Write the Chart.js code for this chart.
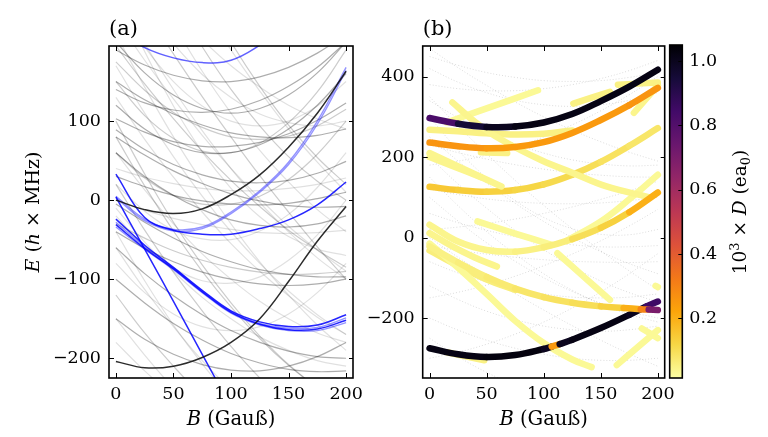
<!DOCTYPE html>
<html>
<head>
<meta charset="utf-8">
<script src="https://cdn.jsdelivr.net/npm/chart.js@4.4.0/dist/chart.umd.min.js"></script>
<style>
  html, body { margin: 0; padding: 0; background: #fff; }
  #wrap { position: relative; width: 768px; height: 437px; }
  #wrap canvas { position: absolute; left: 0; top: 0; }
</style>
</head>
<body>
<div id="wrap">
  <canvas id="chart-a" width="768" height="437"></canvas>
  <canvas id="chart-b" width="768" height="437"></canvas>
  <canvas id="chart-c" width="768" height="437"></canvas>
</div>
<script>
// ---- data ----
const bGrid = [0, 25, 50, 75, 100, 125, 150, 175, 200];
const xTicks = [0, 50, 100, 150, 200];
const yTicksA = [-200, -100, 0, 100];
const yTicksB = [-200, 0, 200, 400];
const cbTicks = [0.2, 0.4, 0.6, 0.8, 1.0];

// panel (a): energies on bGrid
const grayDarkA = [
  [140, 123, 114, 111, 115, 126, 144, 168, 200],
  [103, 86, 74, 68, 68, 73, 84, 101, 123],
  [89, 64, 45, 32, 24, 22, 25, 34, 49],
  [190, 171, 158, 151, 150, 156, 168, 186, 210],
  [60, 30, 6, -12, -25, -32, -34, -30, -20],
  [-40, -61, -78, -91, -100, -106, -108, -106, -100],
  [30, 17, 6, -1, -5, -6, -4, 2, 10],
  [80, 57, 37, 21, 8, -1, -7, -9, -8],
  [120, 90, 70, 60, 60, 70, 90, 120, 160],
  [-100, -130, -156, -177, -194, -206, -214, -217, -216],
  [-60, -93, -121, -145, -165, -180, -191, -198, -200],
  [-5, -28, -48, -65, -78, -88, -94, -97, -97],
  [150, 127, 109, 95, 85, 80, 79, 82, 90],
  [200, 161, 133, 116, 110, 116, 133, 161, 200],
  [-150, -176, -195, -208, -215, -216, -210, -198, -180],
];
const grayLightA = [
  [195, 147, 103, 62, 25, -8, -38, -63, -85],
  [230, 177, 128, 82, 40, 2, -33, -63, -90],
  [260, 198, 140, 88, 40, -3, -40, -73, -100],
  [300, 241, 185, 131, 80, 31, -15, -59, -100],
  [170, 110, 55, 5, -40, -80, -115, -145, -170],
  [130, 77, 29, -15, -55, -90, -121, -148, -170],
  [100, 33, -28, -82, -130, -172, -208, -237, -260],
  [60, 13, -30, -68, -100, -128, -150, -168, -180],
  [-10, -53, -90, -123, -150, -173, -190, -203, -210],
  [-120, -168, -210, -248, -280, -308, -330, -348, -360],
  [-180, -216, -248, -276, -300, -320, -338, -350, -360],
  [360, 288, 223, 163, 110, 63, 23, -12, -40],
  [400, 324, 255, 194, 140, 94, 55, 24, 0],
  [330, 283, 240, 203, 170, 143, 120, 103, 90],
  [450, 378, 310, 248, 190, 138, 90, 48, 10],
  [20, -38, -91, -140, -185, -225, -261, -293, -320],
  [-60, -113, -160, -203, -240, -273, -300, -323, -340],
  [210, 143, 80, 23, -30, -78, -120, -158, -190],
  [80, 18, -39, -90, -135, -175, -209, -237, -260],
  [-150, -196, -238, -276, -310, -340, -368, -391, -410],
  [270, 188, 119, 61, 15, -21, -46, -62, -70],
  [500, 414, 335, 264, 200, 144, 95, 54, 20],
  [-40, -102, -158, -207, -250, -287, -318, -343, -360],
  [20, -14, -38, -49, -50, -39, -18, 16, 60],
  [60, 28, 6, -5, -5, 5, 26, 58, 100],
  [-20, -59, -86, -102, -105, -97, -76, -44, 0],
  [-80, -117, -144, -160, -165, -160, -144, -117, -80],
  [150, 107, 78, 62, 60, 72, 98, 137, 190],
  [250, 194, 150, 119, 100, 94, 100, 119, 150],
  [300, 244, 198, 159, 130, 109, 98, 94, 100],
  [-30, -48, -64, -76, -85, -91, -94, -93, -90],
  [40, 29, 21, 15, 12, 12, 15, 20, 28],
  [0, -13, -23, -31, -37, -41, -42, -41, -38],
  [175, 139, 111, 92, 80, 77, 81, 94, 115],
];
const blueA = [
  [215, 193, 180, 174, 177, 196, 222, 255, 295],
  [33, -22, -38, -43, -43, -36, -25, -6, 23],
  [4, -62, -128, -195, -262, -330, -398, -466, -534],
  [-24, -57, -85, -114, -140, -154, -160, -158, -145],
  [-31, -61, -87, -116, -142, -157, -164, -163, -152],
];
const paleBlueA = [
  [5, -24, -37, -34, -15, 12, 48, 100, 168],
  [3, -26, -39, -36, -17, 10, 45, 96, 164],
  [-28, -59, -86, -115, -141, -156, -162, -161, -149],
  [-34, -62, -88, -117, -143, -158, -165, -165, -155],
];
const blackA = [
  [0, -12, -17, -11, 7, 32, 67, 110, 163],
  [-204, -212, -210, -199, -180, -150, -103, -52, -8],
];

// panel (b): faint dotted levels on bGrid
const dotsB = [
  [450, 428, 410, 398, 390, 388, 390, 398, 410],
  [420, 386, 360, 341, 330, 326, 330, 341, 360],
  [380, 370, 365, 365, 370, 380, 395, 415, 440],
  [340, 298, 263, 233, 210, 193, 183, 178, 180],
  [250, 190, 135, 85, 40, 0, -35, -65, -90],
  [200, 133, 73, 18, -30, -72, -108, -137, -160],
  [150, 79, 15, -41, -90, -131, -165, -191, -210],
  [100, 41, -13, -59, -100, -134, -163, -184, -200],
  [60, 37, 18, 2, -10, -18, -23, -23, -20],
  [-60, -88, -110, -128, -140, -148, -150, -148, -140],
  [-120, -154, -183, -204, -220, -229, -233, -229, -220],
  [-200, -230, -255, -275, -290, -300, -305, -305, -300],
  [-250, -296, -335, -366, -390, -406, -415, -416, -410],
  [300, 217, 148, 92, 50, 22, 8, 7, 20],
  [470, 422, 378, 337, 300, 267, 238, 212, 190],
  [20, 26, 35, 46, 60, 76, 95, 116, 140],
  [-150, -136, -118, -96, -70, -41, -8, 29, 70],
  [180, 190, 205, 225, 250, 280, 315, 355, 400],
  [-300, -285, -265, -240, -210, -175, -135, -90, -40],
  [350, 277, 208, 142, 80, 22, -33, -83, -130],
  [0, -49, -95, -139, -180, -219, -255, -289, -320],
  [230, 211, 195, 181, 170, 161, 155, 151, 150],
  [-20, -32, -41, -49, -55, -59, -61, -62, -60],
  [120, 107, 96, 89, 85, 84, 86, 92, 100],
];

// panel (b): thick coloured levels, field B, energy E, dipole D
const lineB = [
  [20, 40, 63, 98, 126, 155, 193],
  [15, 55, 95],
  [0, 25, 50, 75, 100, 125],
  [0, 28, 63],
  [0, 20, 45],
  [45, 68],
  [120, 150, 175, 200],
  [0, 20, 40, 59],
  [0, 25, 50, 75, 100, 125, 142],
  [0, 25, 50, 75],
  [42, 75, 107],
  [112, 135, 158],
  [164, 182, 200],
  [186, 200],
  [198, 200],
  [165, 200],
  [179, 200],
  [126, 158],
  [15, 48],
  [0, 25, 50, 75, 100, 125, 150, 175, 200],
  [0, 25, 50, 75, 100, 125, 150, 170, 185, 192, 200],
  [0, 25, 50, 75, 100, 125, 150, 175, 200],
  [0, 25, 50, 75, 100, 125, 150, 175, 200],
  [0, 25, 50, 75, 100, 125, 150, 175, 200],
  [0, 25, 50, 75, 100, 107, 114, 125, 150, 175, 190, 200],
];
const lineE = [
  [336, 287, 243, 192, 160, 127, 100],
  [286, 326, 366],
  [268, 264, 259, 256, 258, 266],
  [210, 173, 127],
  [200, 178, 150],
  [212, 210],
  [-8, 40, 95, 156],
  [11, -22, -50, -72],
  [-15, -75, -140, -207, -262, -303, -322],
  [-32, -70, -104, -130],
  [40, 10, -18],
  [-39, -97, -155],
  [-317, -273, -230],
  [-226, -250],
  [-120, -123],
  [380, 385],
  [310, 378],
  [333, 362],
  [-285, -305],
  [32, -10, -31, -35, -24, -4, 24, 63, 112],
  [-22, -62, -98, -127, -148, -162, -171, -175, -178, -179, -180],
  [126, 118, 114, 118, 132, 156, 188, 228, 272],
  [236, 227, 222, 225, 237, 260, 292, 329, 372],
  [297, 283, 275, 276, 286, 307, 339, 375, 417],
  [-275, -290, -297, -292, -277, -271, -265, -254, -225, -192, -171, -159],
];
const lineD = [
  [0.04, 0.04, 0.04, 0.04, 0.04, 0.04, 0.05],
  [0.03, 0.03, 0.03],
  [0.05, 0.05, 0.05, 0.05, 0.05, 0.05],
  [0.04, 0.04, 0.04],
  [0.04, 0.04, 0.04],
  [0.05, 0.05],
  [0.03, 0.03, 0.03, 0.03],
  [0.04, 0.04, 0.04, 0.04],
  [0.03, 0.03, 0.03, 0.03, 0.03, 0.03, 0.03],
  [0.06, 0.06, 0.06, 0.06],
  [0.03, 0.03, 0.03],
  [0.03, 0.03, 0.03],
  [0.03, 0.03, 0.03],
  [0.03, 0.03],
  [0.03, 0.03],
  [0.05, 0.05],
  [0.04, 0.04],
  [0.05, 0.05],
  [0.05, 0.05],
  [0.04, 0.04, 0.04, 0.05, 0.06, 0.1, 0.13, 0.2, 0.3],
  [0.05, 0.06, 0.07, 0.08, 0.09, 0.1, 0.13, 0.2, 0.3, 0.7, 0.3],
  [0.15, 0.14, 0.13, 0.12, 0.11, 0.1, 0.09, 0.08, 0.07],
  [0.26, 0.26, 0.25, 0.25, 0.25, 0.25, 0.25, 0.26, 0.27],
  [0.82, 0.95, 1.0, 1.02, 1.02, 1.02, 1.02, 1.02, 1.03],
  [1.02, 1.02, 1.03, 1.03, 1.0, 0.25, 1.0, 1.02, 1.02, 1.0, 0.85, 0.8],
];
const dMin = 0.015, dMax = 1.05;

// ---- helpers ----
const inferno = [
  [0, 0, 4], [22, 11, 57], [66, 10, 104], [106, 23, 110], [147, 38, 103], [188, 55, 84],
  [221, 81, 58], [243, 120, 25], [252, 165, 10], [246, 215, 70], [252, 255, 164],
];
function cmap(d) {
  let t = (d - dMin) / (dMax - dMin);
  t = Math.max(0, Math.min(1, t));
  const p = (1 - t) * 10;
  const i = Math.min(9, Math.floor(p));
  const f = p - i;
  const c = inferno[i].map((v, k) => Math.round(v + (inferno[i + 1][k] - v) * f));
  return "rgb(" + c.join(",") + ")";
}
const SERIF = '"DejaVu Serif", serif';
function fontFor(st, size) {
  const s = st === "sup" || st === "sub" ? size * 0.7 : size;
  return (st === "i" ? "italic " : "") + s + "px " + SERIF;
}
function drawRich(ctx, parts, x, y, size, angle) {
  ctx.save();
  ctx.translate(x, y);
  ctx.rotate(angle || 0);
  ctx.fillStyle = "#000";
  ctx.textAlign = "left";
  ctx.textBaseline = "alphabetic";
  let w = 0;
  parts.forEach(([t, st]) => { ctx.font = fontFor(st, size); w += ctx.measureText(t).width; });
  let cx = -w / 2;
  parts.forEach(([t, st]) => {
    ctx.font = fontFor(st, size);
    const dy = st === "sup" ? -size * 0.4 : st === "sub" ? size * 0.22 : 0;
    ctx.fillText(t, cx, dy);
    cx += ctx.measureText(t).width;
  });
  ctx.restore();
}
const pts = (xs, ys) => xs.map((x, i) => ({ x: x, y: ys[i] }));
const fmt = v => String(v).replace("-", "\u2212");

// frame, inward ticks, labels
const decor = {
  id: "decor",
  afterDraw(chart, args, o) {
    const { ctx, chartArea: a, scales } = chart;
    ctx.save();
    if (o.cbar) {
      const g = ctx.createLinearGradient(0, a.bottom, 0, a.top);
      inferno.forEach((c, k) => g.addColorStop(k / 10, "rgb(" + inferno[10 - k].join(",") + ")"));
      ctx.fillStyle = g;
      ctx.fillRect(a.left, a.top, a.right - a.left, a.bottom - a.top);
    }
    ctx.strokeStyle = "#000";
    ctx.lineWidth = 1;
    const seg = (x1, y1, x2, y2) => { ctx.beginPath(); ctx.moveTo(x1, y1); ctx.lineTo(x2, y2); ctx.stroke(); };
    if (!o.cbar) {
      scales.x.ticks.forEach(t => {
        const p = Math.round(scales.x.getPixelForValue(t.value)) + 0.5;
        seg(p, a.bottom, p, a.bottom - 5);
        seg(p, a.top, p, a.top + 5);
      });
    }
    scales.y.ticks.forEach(t => {
      const p = Math.round(scales.y.getPixelForValue(t.value)) + 0.5;
      if (!o.cbar) seg(a.left, p, a.left + 5, p);
      seg(a.right, p, a.right - 4, p);
    });
    ctx.lineWidth = 1.6;
    ctx.strokeRect(a.left, a.top, a.right - a.left, a.bottom - a.top);
    ctx.restore();
    if (o.title) {
      ctx.save();
      ctx.font = "21px " + SERIF;
      ctx.fillStyle = "#000";
      ctx.fillText(o.title, a.left, 35);
      ctx.restore();
    }
    if (o.xlabel) drawRich(ctx, o.xlabel, (a.left + a.right) / 2, 425, 19.5, 0);
    if (o.ylabel) drawRich(ctx, o.ylabel, o.ylabelX, (a.top + a.bottom) / 2, 19, -Math.PI / 2);
  },
};

const tickFont = { family: SERIF, size: 17.5 };
function axes(yTicks, yMin, yMax, yWidth) {
  return {
    x: {
      type: "linear", min: -6, max: 206,
      grid: { display: false, drawTicks: false },
      border: { display: false },
      afterBuildTicks: s => { s.ticks = xTicks.map(v => ({ value: v })); },
      afterFit: s => { s.height = 59; },
      ticks: { font: tickFont, color: "#000", padding: 6, maxRotation: 0, callback: fmt },
    },
    y: {
      type: "linear", min: yMin, max: yMax,
      grid: { display: false, drawTicks: false },
      border: { display: false },
      afterBuildTicks: s => { s.ticks = yTicks.map(v => ({ value: v })); },
      afterFit: s => { s.width = yWidth; },
      ticks: { font: tickFont, color: "#000", padding: 8, callback: fmt },
    },
  };
}
const common = {
  responsive: false, animation: false, devicePixelRatio: 1, events: [],
  elements: { point: { radius: 0 }, line: { tension: 0.4, capBezierPoints: false } },
};
const xlabel = [["B", "i"], [" (Gau\u00df)", ""]];

// ---- panel (a) ----
const dsA = [];
grayLightA.forEach((ys, i) => dsA.push({
  data: pts(bGrid, ys), borderColor: i % 3 === 0 ? "rgba(0,0,0,0.2)" : "rgba(0,0,0,0.12)",
  borderWidth: 1.2, order: 9, clip: 0,
}));
grayDarkA.forEach(ys => dsA.push({
  data: pts(bGrid, ys), borderColor: "rgba(0,0,0,0.32)", borderWidth: 1.2, order: 8, clip: 0,
}));
paleBlueA.forEach(ys => dsA.push({
  data: pts(bGrid, ys), borderColor: "rgba(40,40,255,0.5)", borderWidth: 1.4, order: 4, clip: 0,
}));
blueA.forEach((ys, i) => dsA.push({
  data: pts(bGrid, ys), borderColor: i === 0 ? "rgba(30,30,255,0.7)" : "rgba(0,0,255,0.85)",
  borderWidth: 1.5, order: 3, clip: 0,
}));
blackA.forEach(ys => dsA.push({
  data: pts(bGrid, ys), borderColor: "rgba(20,20,20,0.9)", borderWidth: 1.5, order: 1, clip: 0,
}));
new Chart(document.getElementById("chart-a"), {
  type: "line",
  data: { datasets: dsA },
  options: Object.assign({}, common, {
    layout: { padding: { left: 0, right: 415, top: 46, bottom: 0 } },
    scales: axes(yTicksA, -225, 195, 109),
    plugins: {
      legend: { display: false }, tooltip: { enabled: false },
      decor: {
        title: "(a)", xlabel: xlabel, ylabelX: 39,
        ylabel: [["E", "i"], [" (", ""], ["h", "i"], [" \u00d7 MHz)", ""]],
      },
    },
  }),
  plugins: [decor],
});

// ---- panel (b) ----
const dsB = [];
dotsB.forEach(ys => dsB.push({
  data: pts(bGrid, ys), borderColor: "rgba(0,0,0,0.18)", borderWidth: 0.8,
  borderDash: [1, 2], order: 20, clip: 0,
}));
lineB.forEach((xs, i) => {
  const d = lineD[i];
  const top = Math.max.apply(null, d);
  dsB.push({
    data: pts(xs, lineE[i]),
    borderWidth: 6.5, borderCapStyle: "round", borderJoinStyle: "round",
    borderColor: cmap(d[0]),
    segment: { borderColor: c => cmap(d[c.p0DataIndex]) },
    order: top > 0.5 ? 1 : top > 0.2 ? 3 : 5,
  });
});
new Chart(document.getElementById("chart-b"), {
  type: "line",
  data: { datasets: dsB },
  options: Object.assign({}, common, {
    layout: { padding: { left: 0, right: 103.3, top: 46, bottom: 0 } },
    scales: axes(yTicksB, -349, 476, 422.7),
    plugins: {
      legend: { display: false }, tooltip: { enabled: false },
      decor: { title: "(b)", xlabel: xlabel },
    },
  }),
  plugins: [decor],
});

// ---- colour bar ----
new Chart(document.getElementById("chart-c"), {
  type: "line",
  data: { datasets: [] },
  options: Object.assign({}, common, {
    layout: { padding: { left: 669.7, right: 0, top: 45, bottom: 59 } },
    scales: {
      x: { type: "linear", display: false, min: 0, max: 1 },
      y: {
        type: "linear", position: "right", min: dMin, max: dMax,
        grid: { display: false, drawTicks: false },
        border: { display: false },
        afterBuildTicks: s => { s.ticks = cbTicks.map(v => ({ value: v })); },
        afterFit: s => { s.width = 85.7; },
        ticks: { font: tickFont, color: "#000", padding: 7, callback: v => v.toFixed(1) },
      },
    },
    plugins: {
      legend: { display: false }, tooltip: { enabled: false },
      decor: { cbar: true },
    },
  }),
  plugins: [decor, {
    id: "cbLabel",
    afterDraw(chart) {
      drawRich(chart.ctx, [["10", ""], ["3", "sup"], [" \u00d7 ", ""], ["D", "i"], [" (ea", ""], ["0", "sub"], [")", ""]],
        746, 212, 18.5, -Math.PI / 2);
    },
  }],
});
</script>
</body>
</html>
